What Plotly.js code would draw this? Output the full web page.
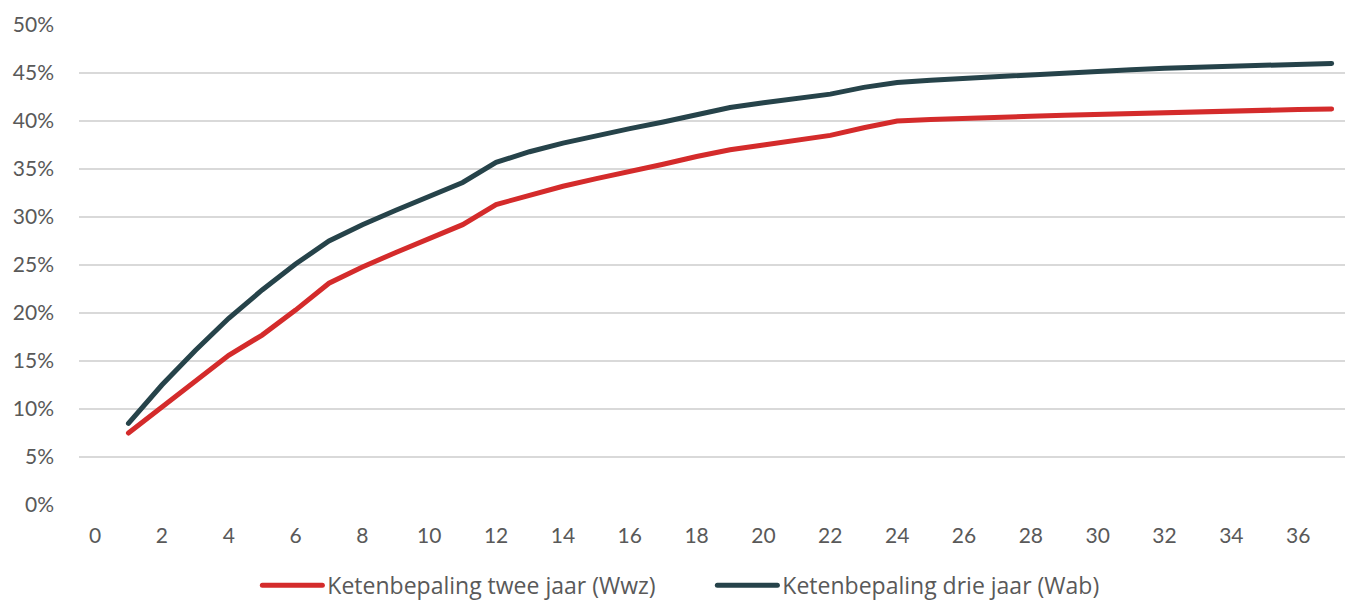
<!DOCTYPE html>
<html>
<head>
<meta charset="utf-8">
<script src="https://cdn.plot.ly/plotly-3.0.1.min.js"></script>
<style>
html,body{margin:0;padding:0;background:#fff;}
#chart{width:1351px;height:601px;}
#chart .js-line, #chart .legendlines path{stroke-linecap:round;}
</style>
</head>
<body>
<div id="chart"></div>
<script>
var months = [1,2,3,4,5,6,7,8,9,10,11,12,13,14,15,16,17,18,19,20,21,22,23,24,25,26,27,28,29,30,31,32,33,34,35,36,37];
var wwz = [7.5,10.2,13.0,15.6,17.7,20.3,23.1,24.8,26.3,27.8,29.2,31.3,32.3,33.2,34.0,34.7,35.5,36.3,37.0,37.5,38.0,38.5,39.3,40.0,40.15,40.3,40.4,40.5,40.6,40.7,40.8,40.9,41.0,41.05,41.15,41.2,41.25];
var wab = [8.5,12.5,16.1,19.45,22.4,25.1,27.5,29.2,30.7,32.2,33.6,35.7,36.8,37.7,38.5,39.2,39.9,40.7,41.4,41.9,42.4,42.8,43.5,44.0,44.25,44.45,44.65,44.85,45.05,45.2,45.35,45.5,45.6,45.7,45.8,45.95,46.0];
var seriesNames = ["Ketenbepaling twee jaar (Wwz)", "Ketenbepaling drie jaar (Wab)"];
var xTicks = [0,2,4,6,8,10,12,14,16,18,20,22,24,26,28,30,32,34,36];
var yTicks = [0,5,10,15,20,25,30,35,40,45,50];

var font = "Lato, 'Open Sans', sans-serif";
var traces = [
  {x: months, y: wwz, name: seriesNames[0], type: 'scatter', mode: 'lines',
   line: {color: '#D42B2B', width: 5, shape: 'linear'}},
  {x: months, y: wab, name: seriesNames[1], type: 'scatter', mode: 'lines',
   line: {color: '#26434A', width: 5, shape: 'linear'}}
];
var layout = {
  width: 1351, height: 601,
  margin: {l: 79, r: 6, t: 25, b: 96},
  paper_bgcolor: '#fff', plot_bgcolor: '#fff',
  font: {family: font, size: 21, color: '#595959'},
  showlegend: true,
  legend: {orientation: 'h', xref: 'container', yref: 'container',
           x: 0.1905, xanchor: 'left', y: 0.062, yanchor: 'top',
           font: {family: "'Open Sans', sans-serif", size: 23, color: '#595959'},
           itemwidth: 60, entrywidth: 380, entrywidthmode: 'pixels', tracegroupgap: 0},
  xaxis: {range: [-0.48, 37.4], tickvals: xTicks, ticktext: xTicks.map(String),
          showgrid: false, zeroline: false, showline: false, ticks: '',
          ticklabelstandoff: 16, tickfont: {size: 21}},
  yaxis: {range: [0, 50], tickvals: yTicks, ticktext: yTicks.map(function(v){return v + '%';}),
          showgrid: true, gridcolor: '#D9D9D9', gridwidth: 1.5, zeroline: false, showline: false,
          ticks: '', ticklabelstandoff: 24, tickfont: {size: 21}}
};
Plotly.newPlot('chart', traces, layout, {displayModeBar: false, staticPlot: true});
</script>
</body>
</html>
